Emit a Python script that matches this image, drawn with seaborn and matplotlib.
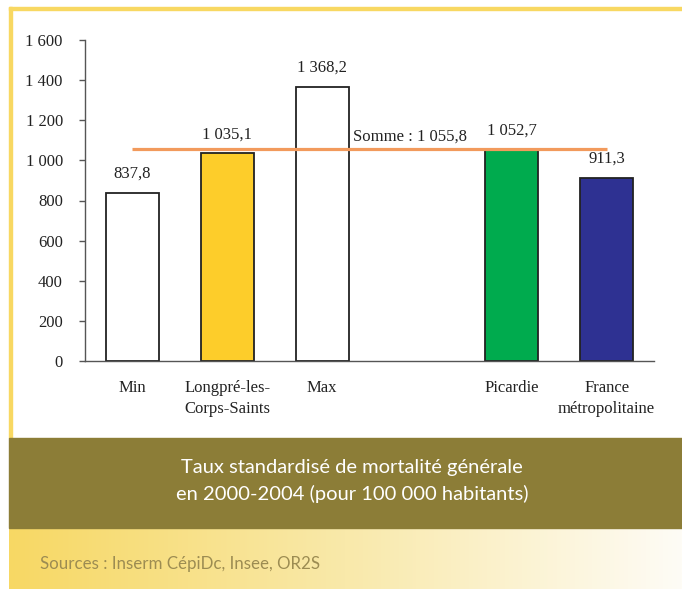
import matplotlib.pyplot as plt
import pandas as pd
import numpy as np
import seaborn as sns
from matplotlib.patches import Rectangle
from matplotlib.ticker import FuncFormatter

# Data
categories = ["Min", "Longpré-les-\nCorps-Saints", "Max", "Picardie", "France\nmétropolitaine"]
values = [837.8, 1035.1, 1368.2, 1052.7, 911.3]
bar_colors = ["#FFFFFF", "#FDCD2A", "#FFFFFF", "#00AB4E", "#2E3192"]
# an empty slot sits between Max and Picardie
slots = ["Min", "Longpré-les-\nCorps-Saints", "Max", " ", "Picardie", "France\nmétropolitaine"]
somme = 1055.8
yticks = [0, 200, 400, 600, 800, 1000, 1200, 1400, 1600]


def fr(v, dec=1):
    s = f"{v:,.{dec}f}"
    return s.replace(",", " ").replace(".", ",")


df = pd.DataFrame({"zone": categories, "taux": values})

sns.set_style("white")
plt.rcParams['font.family'] = ['Liberation Serif', 'DejaVu Serif']

W, H = 682, 589
fig = plt.figure(figsize=(W / 100, H / 100), dpi=100)

# Frame and bands
fig.patches.extend([
    Rectangle((9 / W, 1 - 9.5 / H), 673 / W, 2.6 / H, color="#F8D862",
              transform=fig.transFigure, zorder=0),
    Rectangle((9 / W, 1 - 438 / H), 2.6 / W, 431 / H, color="#F8D862",
              transform=fig.transFigure, zorder=0),
    Rectangle((9 / W, 1 - 528 / H), 673 / W, 90 / H, color="#8C7D37",
              transform=fig.transFigure, zorder=0),
])

# gradient band at the bottom
ax_g = fig.add_axes([9 / W, 0, 673 / W, 61.5 / H])
stops = np.array([[247, 216, 100], [249, 233, 170], [254, 252, 246]]) / 255
t = np.linspace(0, 1, 300)
grad = np.stack([np.interp(t, [0, 0.5, 1], stops[:, c]) for c in range(3)], axis=-1)
ax_g.imshow(grad[np.newaxis, :, :], aspect="auto")
ax_g.axis("off")

# Bar chart
ax = fig.add_axes([85 / W, 1 - 361 / H, 569 / W, 321 / H])
ax.set_facecolor("none")
sns.barplot(data=df, x="zone", y="taux", order=slots, hue="zone",
            palette=dict(zip(categories, bar_colors)), legend=False,
            width=0.56, edgecolor="#222222", linewidth=1.3, saturation=1, ax=ax)

for cat, v in zip(categories, values):
    ax.annotate(fr(v), (slots.index(cat), v), xytext=(0, 8), textcoords="offset points",
                ha="center", va="bottom", fontsize=12, color="#222222")

ax.plot([0, 5], [somme, somme], color="#F29A5C", lw=2.3, solid_capstyle="butt", zorder=5)
ax.annotate("Somme : " + fr(somme), (2.33, somme), xytext=(0, 3), textcoords="offset points",
            ha="left", va="bottom", fontsize=12, color="#222222")

ax.set_ylim(0, 1600)
ax.set_xlim(-0.5, 5.5)
ax.set_yticks(yticks)
ax.yaxis.set_major_formatter(FuncFormatter(lambda v, p: fr(v, 0)))
ax.set_xlabel("")
ax.set_ylabel("")
for s in ["top", "right"]:
    ax.spines[s].set_visible(False)
for s in ["left", "bottom"]:
    ax.spines[s].set_color("#555555")
    ax.spines[s].set_linewidth(1)
ax.tick_params(axis="y", left=True, length=4, width=1, color="#555555", pad=12,
               labelsize=12, labelcolor="#222222")
ax.tick_params(axis="x", bottom=False, length=0, pad=14, labelsize=12, labelcolor="#222222")
for lbl in ax.get_xticklabels():
    lbl.set_linespacing(1.35)

# Caption texts
fig.text(352 / W, 1 - 481 / H,
         "Taux standardisé de mortalité générale\nen 2000-2004 (pour 100 000 habitants)",
         ha="center", va="center", color="white", family="Lato", fontsize=14.5, linespacing=1.55)
fig.text(40 / W, 1 - 564 / H, "Sources : Inserm CépiDc, Insee, OR2S",
         ha="left", va="center", color="#9C8C52", family="Lato", fontsize=12.2)

fig.savefig("out.png", dpi=100)
